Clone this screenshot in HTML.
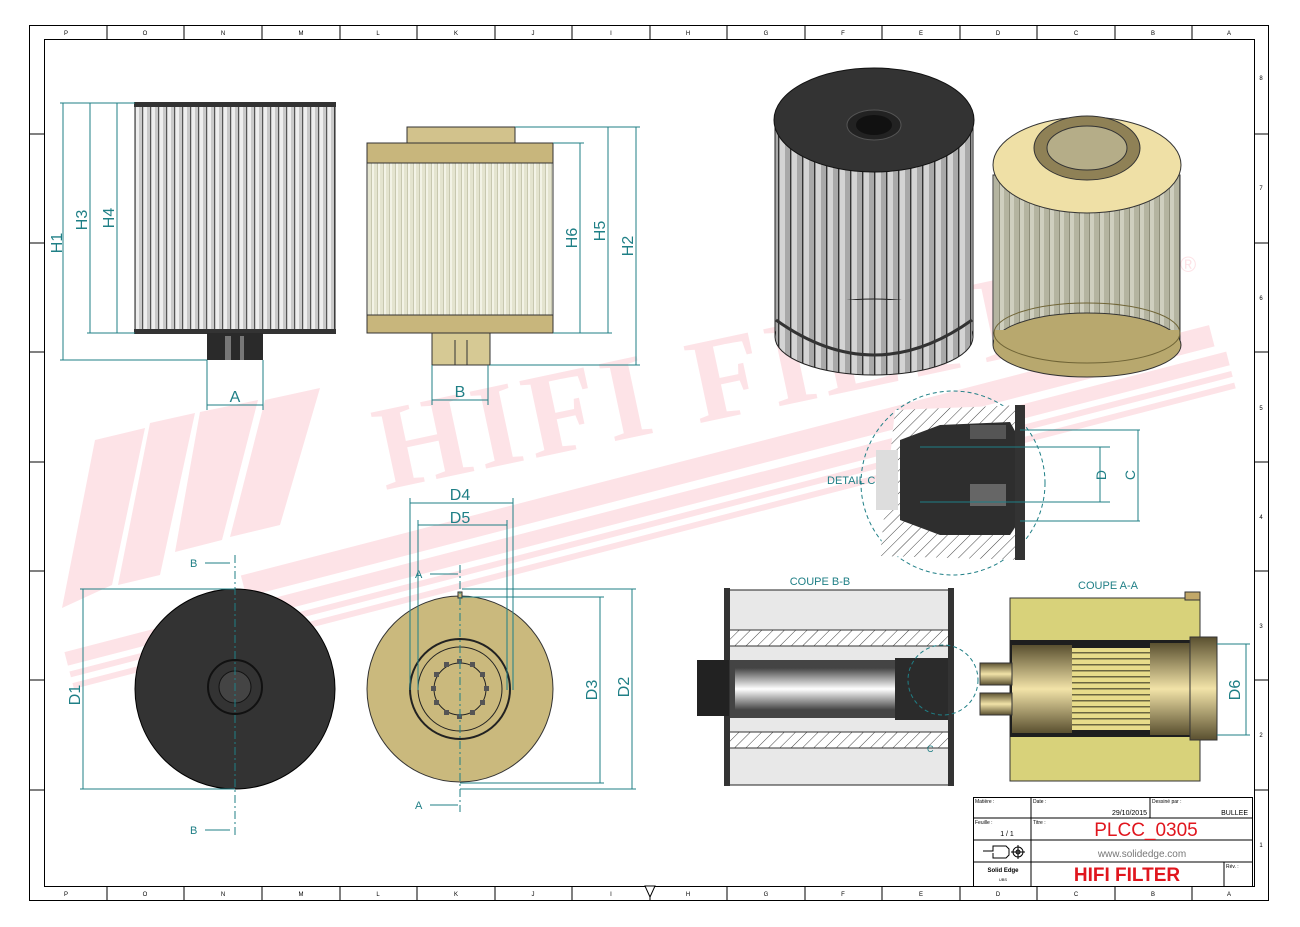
<!DOCTYPE html>
<html><head><meta charset="utf-8"><style>
html,body{margin:0;padding:0;background:#fff;}
svg{display:block;font-family:"Liberation Sans",sans-serif;}
.t{fill:#1f7f86;font-size:16px;}
.d{stroke:#1f7f86;stroke-width:1;fill:none;}
.c{stroke:#1f7f86;stroke-width:1;fill:none;stroke-dasharray:8 3 2 3;}
.z{font-size:6px;fill:#000;}
</style></head><body>
<svg width="1300" height="927" viewBox="0 0 1300 927" xmlns="http://www.w3.org/2000/svg">
<defs>
<pattern id="gs" width="8" height="10" patternUnits="userSpaceOnUse"><rect width="8" height="10" fill="#c9c9c9"/><rect width="3" height="10" fill="#eeeeee"/><rect x="6" width="1" height="10" fill="#555"/></pattern>
<pattern id="cs" width="6" height="10" patternUnits="userSpaceOnUse"><rect width="6" height="10" fill="#e4e4cf"/><rect width="2" height="10" fill="#f3f3e6"/><rect x="5" width="1" height="10" fill="#c8c8b0"/></pattern>
<pattern id="g3" width="12" height="10" patternUnits="userSpaceOnUse"><rect width="12" height="10" fill="#a9a9a9"/><rect width="5" height="10" fill="#d4d4d4"/><rect x="10" width="1.2" height="10" fill="#333"/></pattern>
<pattern id="c3" width="10" height="10" patternUnits="userSpaceOnUse"><rect width="10" height="10" fill="#b4b4a0"/><rect width="4" height="10" fill="#cfcfbf"/><rect x="9" width="1" height="10" fill="#8e8e7a"/></pattern>
<pattern id="h" width="8" height="8" patternUnits="userSpaceOnUse" patternTransform="rotate(45)"><rect width="8" height="8" fill="#fff"/><line x1="0" y1="0" x2="0" y2="8" stroke="#444" stroke-width="1"/></pattern>
<pattern id="ys" width="8" height="6" patternUnits="userSpaceOnUse"><rect width="8" height="6" fill="#e8dc8a"/><rect y="4" width="8" height="1.5" fill="#6b6640"/></pattern>
<linearGradient id="gr" x1="0" y1="0" x2="0" y2="1"><stop offset="0" stop-color="#444"/><stop offset=".5" stop-color="#fff"/><stop offset="1" stop-color="#444"/></linearGradient>
<linearGradient id="tg" x1="0" y1="0" x2="0" y2="1"><stop offset="0" stop-color="#5a5030"/><stop offset=".5" stop-color="#f2e3a8"/><stop offset="1" stop-color="#5a5030"/></linearGradient>
</defs>

<!-- watermark -->
<g fill="#fde3e7">
<polygon points="95,440 145,428 112,585 62,608"/>
<polygon points="150,423 195,413 160,575 118,585"/>
<polygon points="200,412 258,400 222,540 175,552"/>
<polygon points="265,400 320,388 280,525 230,537"/>
<g transform="rotate(-14.5 650 480)">
<rect x="40" y="500" width="1200" height="14"/>
<rect x="40" y="520" width="1200" height="6"/>
<rect x="40" y="532" width="1200" height="6"/>
<rect x="230" y="470" width="1000" height="22"/>
</g>
<text x="385" y="490" transform="rotate(-12 385 490)" font-family="Liberation Serif,serif" font-weight="bold" font-size="120" letter-spacing="6">HIFI FILTER</text>
<text x="1180" y="272" font-size="22">®</text>
</g>

<!-- frame -->
<rect x="29.5" y="25.5" width="1239" height="875" fill="none" stroke="#000"/>
<rect x="44.5" y="39.5" width="1210" height="847" fill="none" stroke="#000"/>
<g stroke="#000">
<line x1="107" y1="25" x2="107" y2="39"/><line x1="184" y1="25" x2="184" y2="39"/><line x1="262" y1="25" x2="262" y2="39"/><line x1="340" y1="25" x2="340" y2="39"/><line x1="417" y1="25" x2="417" y2="39"/><line x1="495" y1="25" x2="495" y2="39"/><line x1="572" y1="25" x2="572" y2="39"/><line x1="650" y1="25" x2="650" y2="39"/><line x1="727" y1="25" x2="727" y2="39"/><line x1="805" y1="25" x2="805" y2="39"/><line x1="882" y1="25" x2="882" y2="39"/><line x1="960" y1="25" x2="960" y2="39"/><line x1="1037" y1="25" x2="1037" y2="39"/><line x1="1115" y1="25" x2="1115" y2="39"/><line x1="1192" y1="25" x2="1192" y2="39"/>
<line x1="107" y1="886" x2="107" y2="900"/><line x1="184" y1="886" x2="184" y2="900"/><line x1="262" y1="886" x2="262" y2="900"/><line x1="340" y1="886" x2="340" y2="900"/><line x1="417" y1="886" x2="417" y2="900"/><line x1="495" y1="886" x2="495" y2="900"/><line x1="572" y1="886" x2="572" y2="900"/><line x1="650" y1="886" x2="650" y2="900"/><line x1="727" y1="886" x2="727" y2="900"/><line x1="805" y1="886" x2="805" y2="900"/><line x1="882" y1="886" x2="882" y2="900"/><line x1="960" y1="886" x2="960" y2="900"/><line x1="1037" y1="886" x2="1037" y2="900"/><line x1="1115" y1="886" x2="1115" y2="900"/><line x1="1192" y1="886" x2="1192" y2="900"/>
<line x1="29" y1="134" x2="44" y2="134"/><line x1="29" y1="243" x2="44" y2="243"/><line x1="29" y1="352" x2="44" y2="352"/><line x1="29" y1="462" x2="44" y2="462"/><line x1="29" y1="571" x2="44" y2="571"/><line x1="29" y1="680" x2="44" y2="680"/><line x1="29" y1="790" x2="44" y2="790"/>
<line x1="1254" y1="134" x2="1268" y2="134"/><line x1="1254" y1="243" x2="1268" y2="243"/><line x1="1254" y1="352" x2="1268" y2="352"/><line x1="1254" y1="462" x2="1268" y2="462"/><line x1="1254" y1="571" x2="1268" y2="571"/><line x1="1254" y1="680" x2="1268" y2="680"/><line x1="1254" y1="790" x2="1268" y2="790"/>
</g>
<g class="z" text-anchor="middle">
<text x="66" y="35">P</text><text x="145" y="35">O</text><text x="223" y="35">N</text><text x="301" y="35">M</text><text x="378" y="35">L</text><text x="456" y="35">K</text><text x="533" y="35">J</text><text x="611" y="35">I</text><text x="688" y="35">H</text><text x="766" y="35">G</text><text x="843" y="35">F</text><text x="921" y="35">E</text><text x="998" y="35">D</text><text x="1076" y="35">C</text><text x="1153" y="35">B</text><text x="1229" y="35">A</text>
<text x="66" y="896">P</text><text x="145" y="896">O</text><text x="223" y="896">N</text><text x="301" y="896">M</text><text x="378" y="896">L</text><text x="456" y="896">K</text><text x="533" y="896">J</text><text x="611" y="896">I</text><text x="688" y="896">H</text><text x="766" y="896">G</text><text x="843" y="896">F</text><text x="921" y="896">E</text><text x="998" y="896">D</text><text x="1076" y="896">C</text><text x="1153" y="896">B</text><text x="1229" y="896">A</text>
<text x="1261" y="80">8</text><text x="1261" y="190">7</text><text x="1261" y="300">6</text><text x="1261" y="410">5</text><text x="1261" y="519">4</text><text x="1261" y="628">3</text><text x="1261" y="737">2</text><text x="1261" y="847">1</text>
</g>
<polygon points="645,886 655,886 650,897" fill="#fff" stroke="#000"/>

<!-- front view 1 -->
<rect x="135" y="103" width="200" height="230" fill="url(#gs)" stroke="#222"/>
<rect x="134" y="102" width="202" height="5" fill="#333"/>
<rect x="134" y="329" width="202" height="5" fill="#333"/>
<rect x="207" y="333" width="56" height="27" fill="#2a2a2a"/>
<rect x="225" y="336" width="6" height="24" fill="#777"/>
<rect x="240" y="336" width="4" height="24" fill="#777"/>
<!-- front view 2 -->
<rect x="407" y="127" width="108" height="17" fill="#d2c28c" stroke="#333"/>
<rect x="367" y="143" width="186" height="190" fill="url(#cs)" stroke="#333"/>
<rect x="367" y="143" width="186" height="20" fill="#c8b67c" stroke="#333"/>
<rect x="367" y="315" width="186" height="18" fill="#c8b67c" stroke="#333"/>
<rect x="432" y="333" width="58" height="32" fill="#d6c994" stroke="#333"/>
<line x1="455" y1="340" x2="455" y2="365" stroke="#333"/><line x1="467" y1="340" x2="467" y2="365" stroke="#333"/>

<!-- dims top -->
<g class="d">
<line x1="60" y1="103" x2="135" y2="103"/><line x1="60" y1="360" x2="207" y2="360"/><line x1="87" y1="333" x2="135" y2="333"/>
<line x1="63" y1="103" x2="63" y2="360"/><line x1="90" y1="103" x2="90" y2="333"/><line x1="117" y1="103" x2="117" y2="333"/>
<line x1="207" y1="360" x2="207" y2="410"/><line x1="263" y1="360" x2="263" y2="410"/><line x1="207" y1="405" x2="263" y2="405"/>
<line x1="432" y1="365" x2="432" y2="405"/><line x1="488" y1="365" x2="488" y2="405"/><line x1="432" y1="400" x2="488" y2="400"/>
<line x1="515" y1="127" x2="640" y2="127"/><line x1="553" y1="143" x2="584" y2="143"/><line x1="553" y1="333" x2="612" y2="333"/><line x1="490" y1="365" x2="640" y2="365"/>
<line x1="580" y1="143" x2="580" y2="333"/><line x1="608" y1="127" x2="608" y2="333"/><line x1="636" y1="127" x2="636" y2="365"/>
</g>
<g class="t">
<text transform="translate(62 243) rotate(-90)" text-anchor="middle">H1</text>
<text transform="translate(87 220) rotate(-90)" text-anchor="middle">H3</text>
<text transform="translate(114 218) rotate(-90)" text-anchor="middle">H4</text>
<text transform="translate(577 238) rotate(-90)" text-anchor="middle">H6</text>
<text transform="translate(605 231) rotate(-90)" text-anchor="middle">H5</text>
<text transform="translate(633 246) rotate(-90)" text-anchor="middle">H2</text>
<text x="235" y="402" text-anchor="middle">A</text>
<text x="460" y="397" text-anchor="middle">B</text>
<text x="460" y="500" text-anchor="middle">D4</text>
<text x="460" y="523" text-anchor="middle">D5</text>
<text transform="translate(80 695) rotate(-90)" text-anchor="middle">D1</text>
<text transform="translate(597 690) rotate(-90)" text-anchor="middle">D3</text>
<text transform="translate(629 687) rotate(-90)" text-anchor="middle">D2</text>
<text transform="translate(1240 690) rotate(-90)" text-anchor="middle">D6</text>
<text transform="translate(1106 475) rotate(-90)" text-anchor="middle" font-size="14">D</text>
<text transform="translate(1135 475) rotate(-90)" text-anchor="middle" font-size="14">C</text>
</g>

<!-- bottom views -->
<circle cx="235" cy="689" r="100" fill="#333" stroke="#000"/>
<circle cx="235" cy="687" r="27" fill="none" stroke="#111" stroke-width="2"/>
<circle cx="235" cy="687" r="16" fill="#444" stroke="#111"/>
<circle cx="460" cy="689" r="93" fill="#cab97d" stroke="#333"/>
<circle cx="460" cy="689" r="50" fill="none" stroke="#222" stroke-width="2"/>
<circle cx="460" cy="689" r="42" fill="none" stroke="#222"/>
<circle cx="460" cy="689" r="26" fill="none" stroke="#222"/>
<g fill="#555"><rect x="457" y="659" width="5" height="5"/><rect x="470" y="662" width="5" height="5"/><rect x="480" y="672" width="5" height="5"/><rect x="484" y="686" width="5" height="5"/><rect x="480" y="700" width="5" height="5"/><rect x="470" y="710" width="5" height="5"/><rect x="457" y="714" width="5" height="5"/><rect x="444" y="710" width="5" height="5"/><rect x="434" y="700" width="5" height="5"/><rect x="431" y="686" width="5" height="5"/><rect x="434" y="672" width="5" height="5"/><rect x="444" y="662" width="5" height="5"/></g>
<rect x="458" y="592" width="4" height="6" fill="#cab97d" stroke="#333"/>
<g class="d">
<line x1="80" y1="589" x2="235" y2="589"/><line x1="80" y1="789" x2="235" y2="789"/><line x1="83" y1="589" x2="83" y2="789"/>
<line x1="462" y1="589" x2="636" y2="589"/><line x1="462" y1="597" x2="604" y2="597"/><line x1="460" y1="783" x2="604" y2="783"/><line x1="460" y1="789" x2="636" y2="789"/>
<line x1="600" y1="597" x2="600" y2="783"/><line x1="632" y1="589" x2="632" y2="789"/>
<line x1="410" y1="498" x2="410" y2="690"/><line x1="513" y1="498" x2="513" y2="690"/><line x1="410" y1="503" x2="513" y2="503"/>
<line x1="418" y1="520" x2="418" y2="690"/><line x1="507" y1="520" x2="507" y2="690"/><line x1="418" y1="525" x2="507" y2="525"/>
<line x1="205" y1="563" x2="230" y2="563"/><line x1="205" y1="830" x2="230" y2="830"/><line x1="430" y1="574" x2="458" y2="574"/><line x1="430" y1="805" x2="458" y2="805"/>
</g>
<line class="c" x1="235" y1="555" x2="235" y2="835"/>
<line class="c" x1="460" y1="565" x2="460" y2="812"/>
<g fill="#1f7f86" font-size="11"><text x="190" y="567">B</text><text x="190" y="834">B</text><text x="415" y="578">A</text><text x="415" y="809">A</text></g>

<!-- 3D renders -->
<rect x="775" y="117" width="198" height="220" fill="url(#g3)" stroke="#222"/>
<ellipse cx="874" cy="337" rx="99" ry="38" fill="url(#g3)" stroke="#222"/>
<rect x="776" y="300" width="196" height="37" fill="url(#g3)"/>
<path d="M776 320 Q874 390 972 320" fill="none" stroke="#333" stroke-width="3"/>
<ellipse cx="874" cy="120" rx="100" ry="52" fill="#333" stroke="#111"/>
<ellipse cx="874" cy="125" rx="27" ry="15" fill="#222" stroke="#555"/>
<ellipse cx="874" cy="125" rx="18" ry="10" fill="#111"/>
<rect x="993" y="175" width="187" height="170" fill="url(#c3)" stroke="#333"/>
<ellipse cx="1087" cy="345" rx="94" ry="32" fill="#b8a86e" stroke="#333"/>
<rect x="994" y="330" width="185" height="14" fill="#b8a86e"/>
<ellipse cx="1087" cy="333" rx="93" ry="30" fill="none" stroke="#6f6436"/>
<ellipse cx="1087" cy="165" rx="94" ry="48" fill="#efe0a6" stroke="#333"/>
<ellipse cx="1087" cy="148" rx="53" ry="32" fill="#8f8156" stroke="#333"/>
<ellipse cx="1087" cy="148" rx="40" ry="22" fill="#b5ad88" stroke="#333"/>

<!-- detail C -->
<circle cx="953" cy="483" r="92" fill="none" stroke="#1f7f86" stroke-dasharray="4 3"/>
<g>
<path d="M895 410 L1025 405 L1025 560 L880 556 Z" fill="url(#h)"/>
<path d="M900 440 L940 425 L1010 422 L1020 440 L1020 520 L1010 535 L940 535 L900 520 Z" fill="#2e2e2e"/>
<rect x="970" y="425" width="36" height="14" fill="#555"/>
<rect x="970" y="484" width="36" height="22" fill="#666"/>
<rect x="1015" y="405" width="10" height="155" fill="#333"/>
<rect x="876" y="450" width="22" height="60" fill="#ddd"/>
</g>
<g class="d">
<line x1="920" y1="447" x2="1110" y2="447"/><line x1="920" y1="502" x2="1110" y2="502"/><line x1="1020" y1="430" x2="1140" y2="430"/><line x1="1020" y1="521" x2="1140" y2="521"/>
<line x1="1100" y1="447" x2="1100" y2="502"/><line x1="1138" y1="430" x2="1138" y2="521"/>
</g>
<text x="827" y="484" fill="#1f7f86" font-size="11">DETAIL C</text>

<!-- section B-B -->
<text x="820" y="585" text-anchor="middle" fill="#1f7f86" font-size="11">COUPE B-B</text>
<rect x="728" y="590" width="222" height="195" fill="#e8e8e8" stroke="#222"/>
<rect x="728" y="630" width="222" height="16" fill="url(#h)" stroke="#333"/>
<rect x="728" y="732" width="222" height="16" fill="url(#h)" stroke="#333"/>
<rect x="730" y="660" width="220" height="58" fill="#444"/>
<rect x="735" y="668" width="160" height="42" fill="url(#gr)"/>
<rect x="895" y="658" width="55" height="62" fill="#2b2b2b"/>
<rect x="724" y="588" width="6" height="198" fill="#333"/>
<rect x="948" y="588" width="6" height="198" fill="#333"/>
<rect x="697" y="660" width="32" height="56" fill="#222"/>
<circle cx="943" cy="680" r="35" fill="none" stroke="#1f7f86" stroke-dasharray="4 3"/>
<text x="927" y="752" fill="#1f7f86" font-size="9">C</text>

<!-- section A-A -->
<text x="1108" y="589" text-anchor="middle" fill="#1f7f86" font-size="11">COUPE A-A</text>
<rect x="1010" y="598" width="190" height="183" fill="#d8d27a" stroke="#333"/>
<rect x="1185" y="592" width="15" height="8" fill="#c2a868" stroke="#333"/>
<rect x="1010" y="640" width="190" height="97" fill="#1e1e1e"/>
<rect x="1012" y="645" width="60" height="88" fill="url(#tg)"/>
<rect x="1072" y="648" width="78" height="82" fill="url(#ys)"/>
<rect x="1150" y="643" width="40" height="92" fill="url(#tg)"/>
<rect x="1190" y="637" width="27" height="103" fill="url(#tg)" stroke="#333"/>
<rect x="980" y="663" width="32" height="22" fill="url(#tg)" stroke="#333"/>
<rect x="980" y="693" width="32" height="22" fill="url(#tg)" stroke="#333"/>
<g class="d"><line x1="1217" y1="644" x2="1250" y2="644"/><line x1="1217" y1="735" x2="1250" y2="735"/><line x1="1246" y1="644" x2="1246" y2="735"/></g>

<!-- title block -->
<g stroke="#000" fill="none">
<rect x="973.5" y="797.5" width="279" height="89"/>
<line x1="1031" y1="797" x2="1031" y2="886"/>
<line x1="973" y1="818" x2="1253" y2="818"/>
<line x1="973" y1="840" x2="1253" y2="840"/>
<line x1="973" y1="862" x2="1253" y2="862"/>
<line x1="1150" y1="797" x2="1150" y2="818"/>
<line x1="1224" y1="862" x2="1224" y2="886"/>
</g>
<g font-size="5" fill="#000"><text x="975" y="803">Matière :</text><text x="1033" y="803">Date :</text><text x="1152" y="803">Dessiné par :</text><text x="975" y="824">Feuille :</text><text x="1033" y="824">Titre :</text><text x="1226" y="868">Rév. :</text></g>
<text x="1147" y="815" font-size="7" text-anchor="end">29/10/2015</text>
<text x="1248" y="815" font-size="7" text-anchor="end">BULLEE</text>
<text x="1007" y="836" font-size="7" text-anchor="middle">1 / 1</text>
<text x="1146" y="836" font-size="19" fill="#e0161e" text-anchor="middle">PLCC_0305</text>
<text x="1142" y="857" font-size="10" fill="#777" text-anchor="middle">www.solidedge.com</text>
<text x="1003" y="872" font-size="6" font-weight="bold" text-anchor="middle">Solid Edge</text>
<text x="1003" y="881" font-size="4" text-anchor="middle">UBS</text>
<text x="1127" y="881" font-size="19" font-weight="bold" fill="#e0161e" text-anchor="middle">HIFI FILTER</text>
<g stroke="#000" fill="none"><path d="M983 851 L993 851 L993 846 L1006 846 L1009 849 L1009 855 L1006 858 L993 858 L993 853"/><circle cx="1018" cy="852" r="5"/><circle cx="1018" cy="852" r="2"/><line x1="1011" y1="852" x2="1025" y2="852"/><line x1="1018" y1="845" x2="1018" y2="859"/></g>
</svg>
</body></html>
